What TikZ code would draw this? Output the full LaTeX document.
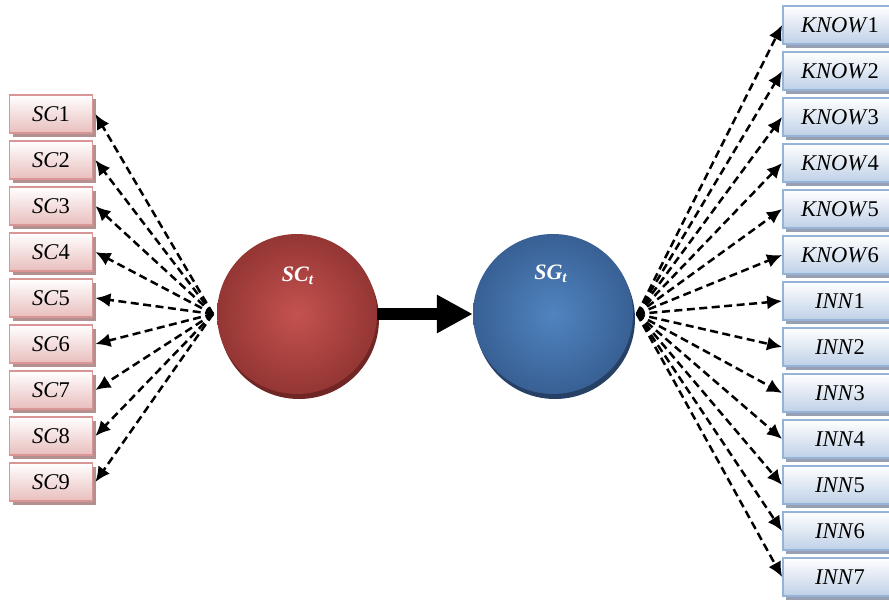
\documentclass[tikz,border=0pt]{standalone}
\usepackage{fontspec}
\setmainfont{Liberation Serif}
\usetikzlibrary{arrows.meta}
\usetikzlibrary{shadows}
\definecolor{rougebord}{RGB}{217,150,148}
\definecolor{rougefond}{RGB}{232,190,189}
\definecolor{rougeombre}{RGB}{180,145,145}
\definecolor{bleubord}{RGB}{149,179,215}
\definecolor{bleufond}{RGB}{190,208,231}
\definecolor{bleuombre}{RGB}{150,160,178}
\definecolor{rougeboule}{RGB}{196,82,79}
\definecolor{rougeboule2}{RGB}{148,54,52}
\definecolor{rougebas}{RGB}{112,38,36}
\definecolor{bleuboule}{RGB}{80,132,192}
\definecolor{bleuboule2}{RGB}{56,96,148}
\definecolor{bleubas}{RGB}{38,64,102}

\begin{document}
\begin{tikzpicture}[x=1pt,y=-1pt]
	% STYLES
	\tikzstyle{boite} = [line width=1.8pt, inner sep=0pt, minimum height=38pt, font=\fontsize{22.5}{24}\selectfont]
	\tikzstyle{sc} = [boite, draw=rougebord, top color=white, bottom color=rougefond, minimum width=83pt,
		drop shadow={shadow xshift=3pt, shadow yshift=-4pt, fill=rougeombre, opacity=1}]
	\tikzstyle{var} = [boite, draw=bleubord, top color=white, bottom color=bleufond, minimum width=114pt,
		drop shadow={shadow xshift=3pt, shadow yshift=-4pt, fill=bleuombre, opacity=1}]
	\tikzstyle{boule} = [circle, minimum size=160pt, inner sep=0pt, draw=none]
	\tikzstyle{nomboule} = [text=white, font=\fontsize{22}{24}\selectfont\bfseries]
	\tikzstyle{lien} = [line width=2.5pt, dash pattern=on 8pt off 4.5pt, -{Latex[length=15pt,width=14pt]}]
	\tikzstyle{fleche} = [line width=12pt, -{Triangle[length=36pt,width=36pt]}]

	\useasboundingbox (0,0) rectangle (889,600);

	% BOULES
	% SC_t
	\node[boule, inner color=rougeboule, outer color=rougeboule2,
		drop shadow={shadow xshift=2pt, shadow yshift=-5pt, fill=rougebas, opacity=1}] (sct) at (297,314) {};
	\node[nomboule] (sctnom) at (298,276) {\textit{SC}\textsubscript{\textit{t}}};
	% SG_t
	\node[boule, inner color=bleuboule, outer color=bleuboule2,
		drop shadow={shadow xshift=2pt, shadow yshift=-5pt, fill=bleubas, opacity=1}] (sgt) at (553,314) {};
	\node[nomboule] (sgtnom) at (551,274) {\textit{SG}\textsubscript{\textit{t}}};

	\draw[fleche] (sct.east) -- (sgt.west);

	% BOITES
	\foreach \i in {1,...,9}
		\node[sc] (sc\i) at (51, {114+46*(\i-1)}) {\textit{SC}\i};
	\foreach \i in {1,...,6}
		\node[var] (know\i) at (840, {25+46*(\i-1)}) {\textit{KNOW}\i};
	\foreach \i in {1,...,7}
		\node[var] (inn\i) at (840, {301+46*(\i-1)}) {\textit{INN}\i};

	% LIENS
	\coordinate (pivotg) at (213,314);
	\coordinate (pivotd) at (637,314);
	\foreach \i in {1,...,9}
		\draw[lien] (pivotg) -- ([xshift=2pt]sc\i.east);
	\foreach \i in {1,...,6}
		\draw[lien] (pivotd) -- (know\i.west);
	\foreach \i in {1,...,7}
		\draw[lien] (pivotd) -- (inn\i.west);

\end{tikzpicture}
\end{document}
